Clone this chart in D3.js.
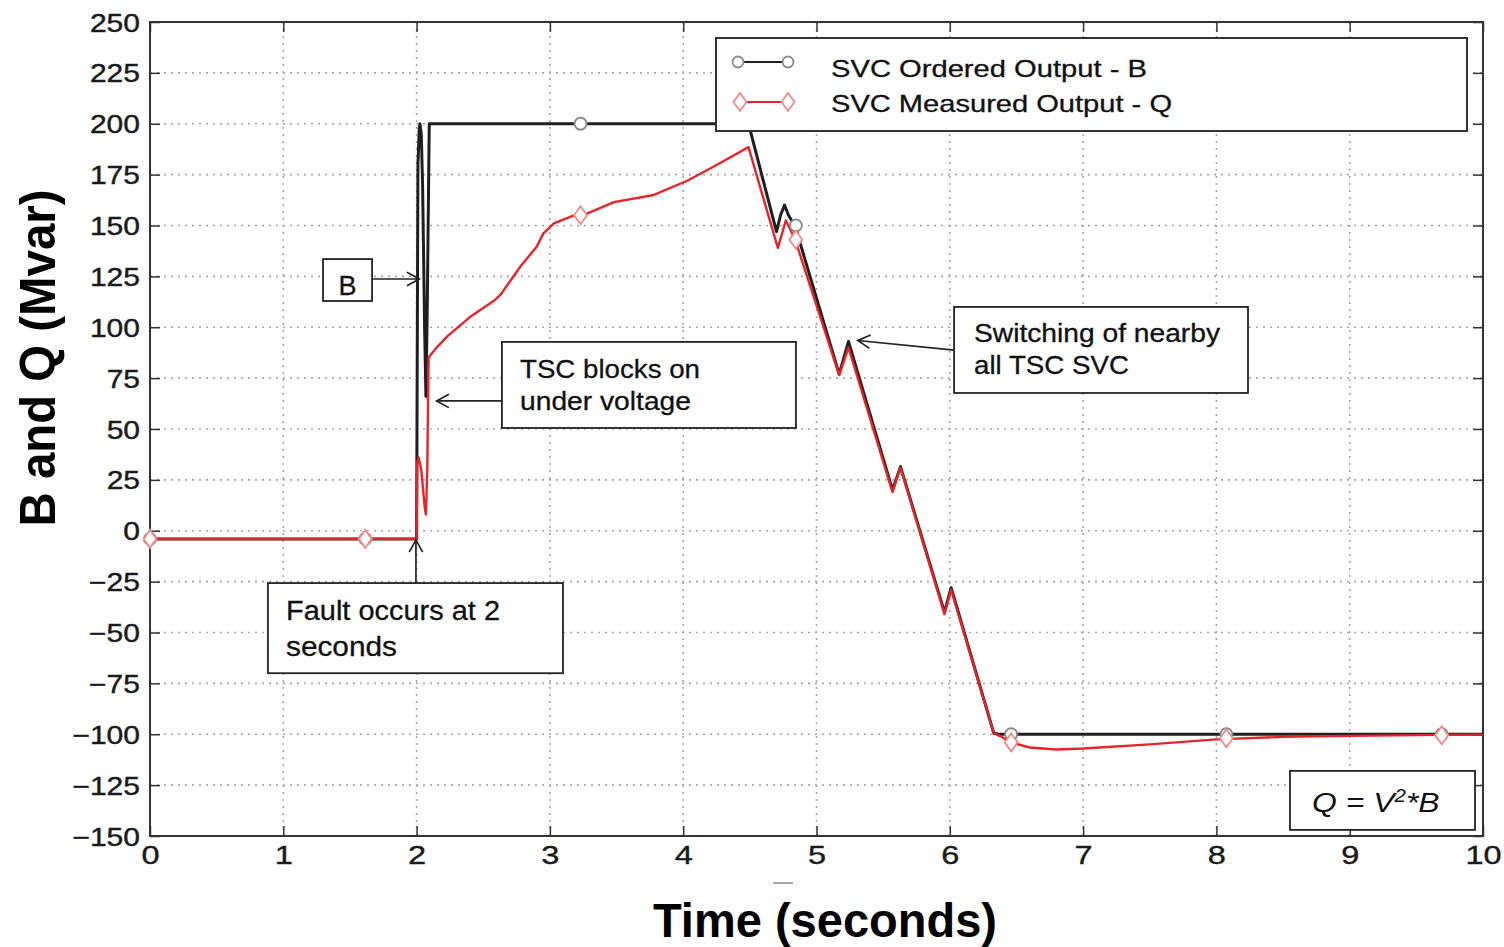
<!DOCTYPE html>
<html>
<head>
<meta charset="utf-8">
<script src="https://cdn.jsdelivr.net/npm/d3@7"></script>
<style>
    body { margin: 0; background: #fff; }
    svg { display: block; font-family: "Liberation Sans", Arial, sans-serif; }
</style>
</head>
<body>
<svg id="chart" width="1504" height="947"></svg>
<script>
document.addEventListener('DOMContentLoaded', () => {
    'use strict';

    // Axis ticks
    const timeTicks = [0, 1, 2, 3, 4, 5, 6, 7, 8, 9, 10];
    const valueTicks = [-150, -125, -100, -75, -50, -25, 0, 25, 50, 75, 100, 125, 150, 175, 200, 225, 250];

    // SVC ordered output B (black)
    const orderedT = [0, 2.0, 2.01, 2.02, 2.025, 2.035, 2.045, 2.06, 2.07, 2.08, 2.095, 4.49, 4.70, 4.73, 4.76, 4.79, 4.84,
        5.17, 5.24, 5.57, 5.63, 5.96, 6.01, 6.33, 6.37, 8.0, 10];
    const orderedB = [-4, -4, 180, 198, 200, 195, 170, 100, 66, 110, 200, 200, 147, 155, 160, 155, 149.5,
        77, 93, 20, 31.5, -40, -28, -99.5, -100, -100, -100];

    // SVC measured output Q (red)
    const measuredT = [0, 2.0, 2.004, 2.015, 2.035, 2.06, 2.07, 2.08, 2.09, 2.1, 2.15, 2.23, 2.4, 2.58, 2.63,
        2.78, 2.9, 2.95, 3.03, 3.18, 3.23, 3.48, 3.78, 4.03, 4.23, 4.49, 4.71, 4.77, 4.84,
        5.17, 5.24, 5.57, 5.63, 5.96, 6.01, 6.33, 6.38, 6.46, 6.6, 6.8, 7.0, 7.5, 8.0, 8.5, 9.0, 9.7, 10];
    const measuredQ = [-4, -4, 33, 36, 30, 12, 8, 30, 85, 86, 90, 95.5, 105, 113, 116,
        130, 139.5, 146, 151, 155, 154.5, 161.5, 165, 172, 179, 188.5, 139, 152.5, 143,
        76.5, 90, 19, 31, -41, -29, -99.5, -101, -104, -106.5, -107.5, -107, -105, -102.5, -101.3, -100.8, -100.3, -100.2];

    // Marker positions along both series
    const markerT = [0, 1.615, 3.23, 4.845, 6.46, 8.075, 9.69];
    const orderedMarkB = [-4, -4, 200, 150, -100, -100, -100];
    const measuredMarkQ = [-4, -4, 155, 143, -104, -102, -100.5];

    const legendLabels = ['SVC Ordered Output - B', 'SVC Measured Output - Q'];

    const width = 1504, height = 947;
    const margin = { top: 22, right: 21, bottom: 111, left: 150 };

    const x = d3.scaleLinear().domain([0, 10]).range([margin.left, width - margin.right]);
    const y = d3.scaleLinear().domain([-150, 250]).range([height - margin.bottom, margin.top]);

    const svg = d3.select('#chart');
    const BLACK = '#1f1f1f', RED = '#e4262c';

    // Grid
    const grid = svg.append('g').attr('stroke', '#a6a6a6').attr('stroke-width', 1.6)
        .attr('stroke-dasharray', '2,5');
    grid.selectAll('.vgrid').data(timeTicks.slice(1, -1)).enter().append('line')
        .attr('x1', d => x(d)).attr('x2', d => x(d))
        .attr('y1', y(-150)).attr('y2', y(250));
    grid.selectAll('.hgrid').data(valueTicks.slice(1, -1)).enter().append('line')
        .attr('x1', x(0)).attr('x2', x(10))
        .attr('y1', d => y(d)).attr('y2', d => y(d));

    // Axes with inward ticks on all four sides
    let styleAxis = g => {
        g.select('.domain').remove();
        g.selectAll('.tick line').attr('stroke', '#333').attr('stroke-width', 1.5);
    };
    let yAxis = svg.append('g').attr('transform', `translate(${x(0)},0)`)
        .call(d3.axisLeft(y).tickValues(valueTicks).tickSize(-10).tickPadding(10))
        .call(styleAxis);
    yAxis.selectAll('.tick text')
        .attr('x', 0).attr('dy', '0.36em')
        .attr('transform', 'translate(-10,0) scale(1.2,1)')
        .attr('font-size', 25).attr('fill', '#1a1a1a')
        .attr('stroke', '#1a1a1a').attr('stroke-width', 0.4);

    let xAxis = svg.append('g').attr('transform', `translate(0,${y(-150)})`)
        .call(d3.axisBottom(x).tickValues(timeTicks).tickSize(-10).tickPadding(10))
        .call(styleAxis);
    xAxis.selectAll('.tick text')
        .attr('y', 0).attr('dy', '0.71em')
        .attr('transform', 'translate(0,10) scale(1.25,1)')
        .attr('font-size', 26).attr('fill', '#1a1a1a')
        .attr('stroke', '#1a1a1a').attr('stroke-width', 0.4);

    svg.append('g').attr('transform', `translate(0,${y(250)})`)
        .call(d3.axisTop(x).tickValues(timeTicks).tickSize(-10).tickFormat(''))
        .call(styleAxis);
    svg.append('g').attr('transform', `translate(${x(10)},0)`)
        .call(d3.axisRight(y).tickValues(valueTicks).tickSize(-10).tickFormat(''))
        .call(styleAxis);

    svg.append('rect')
        .attr('x', x(0)).attr('y', y(250))
        .attr('width', x(10) - x(0)).attr('height', y(-150) - y(250))
        .attr('fill', 'none').attr('stroke', '#333').attr('stroke-width', 2);

    // Series
    let line = d3.line().x(d => x(d[0])).y(d => y(d[1]));
    svg.append('path')
        .datum(d3.zip(orderedT, orderedB))
        .attr('d', line)
        .attr('fill', 'none').attr('stroke', BLACK).attr('stroke-width', 3)
        .attr('stroke-linejoin', 'round');
    svg.append('path')
        .datum(d3.zip(measuredT, measuredQ))
        .attr('d', line)
        .attr('fill', 'none').attr('stroke', RED).attr('stroke-width', 2.4)
        .attr('stroke-linejoin', 'round');

    const diamond = 'M0,-9L6.5,0L0,9L-6.5,0Z';
    svg.selectAll('.mark-b').data(d3.zip(markerT, orderedMarkB)).enter().append('circle')
        .attr('cx', d => x(d[0])).attr('cy', d => y(d[1])).attr('r', 6)
        .attr('fill', '#fff').attr('stroke', '#8a8a8a').attr('stroke-width', 1.8);
    svg.selectAll('.mark-q').data(d3.zip(markerT, measuredMarkQ)).enter().append('path')
        .attr('d', diamond)
        .attr('transform', d => `translate(${x(d[0])},${y(d[1])})`)
        .attr('fill', '#fff').attr('stroke', '#f08a8a').attr('stroke-width', 1.8);

    // Helpers for annotations
    let text = (g, px, py, s, size, len, extra) => {
        let t = g.append('text').attr('x', px).attr('y', py).attr('font-size', size)
            .attr('fill', '#111').attr('stroke', '#111').attr('stroke-width', 0.3).text(s);
        if (len) t.attr('textLength', len).attr('lengthAdjust', 'spacingAndGlyphs');
        if (extra) extra(t);
        return t;
    };
    let box = (t0, v0, t1, v1) => svg.append('rect')
        .attr('x', x(t0)).attr('y', y(v0))
        .attr('width', x(t1) - x(t0)).attr('height', y(v1) - y(v0))
        .attr('fill', '#fff').attr('stroke', '#222').attr('stroke-width', 1.8);
    let arrow = (t0, v0, t1, v1) => {
        let x1 = x(t0), y1 = y(v0), x2 = x(t1), y2 = y(v1);
        let a = Math.atan2(y2 - y1, x2 - x1), len = 14, spread = 0.5;
        svg.append('line').attr('x1', x1).attr('y1', y1).attr('x2', x2).attr('y2', y2)
            .attr('stroke', '#222').attr('stroke-width', 1.7);
        svg.append('path')
            .attr('d', `M${x2 - len * Math.cos(a - spread)},${y2 - len * Math.sin(a - spread)}` +
                `L${x2},${y2}L${x2 - len * Math.cos(a + spread)},${y2 - len * Math.sin(a + spread)}`)
            .attr('fill', 'none').attr('stroke', '#222').attr('stroke-width', 1.7);
    };

    // "B" label
    arrow(1.666, 123.7, 2.02, 123.7);
    box(1.298, 133.5, 1.666, 112.9);
    text(svg, x(1.482), 295, 'B', 27, null, t => t.attr('text-anchor', 'middle'));

    // TSC blocks on under voltage
    arrow(2.64, 63.8, 2.15, 63.8);
    box(2.64, 92.8, 4.846, 50.5);
    text(svg, 520, 378, 'TSC blocks on', 26, 180);
    text(svg, 520, 410, 'under voltage', 26, 171);

    // Fault occurs at 2 seconds
    arrow(1.995, -25.7, 1.995, -4.5);
    box(0.885, -25.7, 3.098, -70);
    text(svg, 286, 620, 'Fault occurs at 2', 27, 214);
    text(svg, 286, 656, 'seconds', 27, 111);

    // Switching of nearby all TSC SVC
    arrow(6.032, 88.8, 5.31, 93.5);
    box(6.032, 110, 8.237, 67.7);
    text(svg, 974, 342, 'Switching of nearby', 25, 246);
    text(svg, 974, 374, 'all TSC SVC', 25, 155);

    // Q = V^2*B
    box(8.552, -118, 9.94, -147);
    let eq = svg.append('text')
        .attr('transform', 'translate(1312,812) scale(1.14,1)')
        .attr('font-size', 28).attr('font-style', 'italic').attr('fill', '#111');
    eq.append('tspan').text('Q = V');
    eq.append('tspan').attr('font-size', 18).attr('dy', -10).text('2');
    eq.append('tspan').attr('dy', 10).text('*B');

    // Legend
    let legend = svg.append('g');
    legend.append('rect')
        .attr('x', 716).attr('y', 38).attr('width', 751).attr('height', 93)
        .attr('fill', '#fff').attr('stroke', '#333').attr('stroke-width', 2);
    legend.append('line').attr('x1', 733).attr('x2', 793).attr('y1', 62).attr('y2', 62)
        .attr('stroke', BLACK).attr('stroke-width', 2);
    [738, 788].forEach(cx => legend.append('circle')
        .attr('cx', cx).attr('cy', 62).attr('r', 5.5)
        .attr('fill', '#fff').attr('stroke', '#8a8a8a').attr('stroke-width', 1.8));
    legend.append('line').attr('x1', 733).attr('x2', 793).attr('y1', 102).attr('y2', 102)
        .attr('stroke', RED).attr('stroke-width', 2);
    [740, 788].forEach(cx => legend.append('path')
        .attr('d', diamond).attr('transform', `translate(${cx},102)`)
        .attr('fill', '#fff').attr('stroke', '#f08a8a').attr('stroke-width', 1.8));
    text(legend, 831, 77, legendLabels[0], 24, 316);
    text(legend, 831, 112, legendLabels[1], 24, 341);

    // Axis titles
    svg.append('text')
        .attr('transform', 'translate(55,358) rotate(-90)')
        .attr('text-anchor', 'middle').attr('font-size', 50).attr('font-weight', 'bold')
        .attr('textLength', 337).attr('lengthAdjust', 'spacingAndGlyphs')
        .attr('fill', '#000')
        .text('B and Q (Mvar)');
    svg.append('text')
        .attr('x', 825).attr('y', 937)
        .attr('text-anchor', 'middle').attr('font-size', 48).attr('font-weight', 'bold')
        .attr('textLength', 344).attr('lengthAdjust', 'spacingAndGlyphs')
        .attr('fill', '#000')
        .text('Time (seconds)');

    // small stray dash under the axis
    svg.append('line').attr('x1', 773).attr('x2', 793).attr('y1', 883).attr('y2', 883)
        .attr('stroke', '#888').attr('stroke-width', 1.5);
});
</script>
</body>
</html>
